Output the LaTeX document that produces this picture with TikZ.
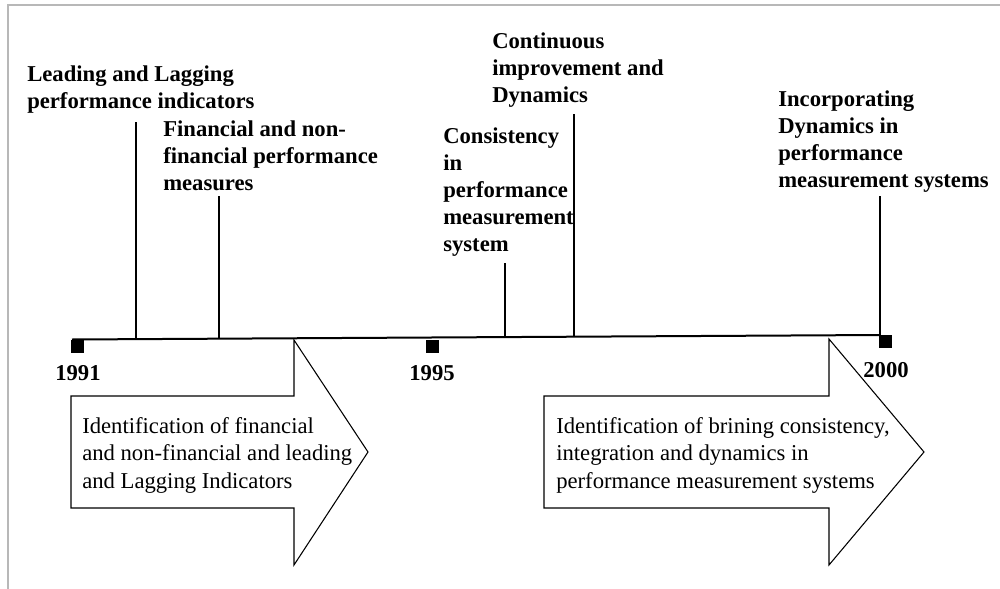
\documentclass[tikz,border=0pt]{standalone}
\usepackage{fontspec}
\setmainfont{Liberation Serif}
\begin{document}
\begin{tikzpicture}[x=0.75pt,y=-0.75pt,
  frameline/.style={draw=black!28,line width=1.5pt},
  axis/.style={line width=1.5pt},
  tick/.style={line width=1.5pt},
  yearmark/.style={fill=black,draw=none,minimum size=9.75pt,inner sep=0pt,anchor=north west},
  yearlabel/.style={font=\bfseries\fontsize{17}{20.25}\selectfont,anchor=base,inner sep=0pt},
  milestone/.style={font=\bfseries\fontsize{17}{20.25}\selectfont,align=left,anchor=base west,inner sep=0pt},
  phase/.style={draw=black,line width=0.8pt,fill=white},
  phasetext/.style={font=\fontsize{17}{20.6}\selectfont,align=left,anchor=base west,inner sep=0pt}]
\useasboundingbox (0,0) rectangle (1000,589);

% partial frame
\draw[frameline] (8,589) -- (8,5) -- (1000,5);

% time axis
\coordinate (axL) at (72,339.5);
\coordinate (axR) at (880,335);
\draw[axis] (axL) -- (axR);

% year markers and labels (multi-line nodes are placed by their last baseline)
\node[yearmark] (m1991) at (71,339.5) {};
\node[yearmark] (m1995) at (426,340) {};
\node[yearmark] (m2000) at (879,335) {};
\node[yearlabel] (y1991) at (78,380) {1991};
\node[yearlabel] (y1995) at (432,380) {1995};

% milestones
\node[milestone] (lead) at (27,108) {Leading and Lagging\\performance indicators};
\node[milestone] (fin) at (163,190) {Financial and non-\\financial performance\\measures};
\node[milestone] (cons) at (443,251) {Consistency\\in\\performance\\measurement\\system};
\node[milestone] (cont) at (492,102) {Continuous\\improvement and\\Dynamics};
\node[milestone] (inc) at (778,187) {Incorporating\\Dynamics in\\performance\\measurement systems};

% milestone ticks down to the axis
\coordinate (leadT) at (136,122);   \coordinate (leadB) at (136,339.1);
\coordinate (finT)  at (219,196);   \coordinate (finB)  at (219,338.7);
\coordinate (consT) at (505,263);   \coordinate (consB) at (505,337.1);
\coordinate (contT) at (574,114);   \coordinate (contB) at (574,336.7);
\coordinate (incT)  at (880,196);   \coordinate (incB)  at (880,335);
\draw[tick] (leadT) -- (leadB);
\draw[tick] (finT) -- (finB);
\draw[tick] (consT) -- (consB);
\draw[tick] (contT) -- (contB);
\draw[tick] (incT) -- (incB);

% phase arrows
\draw[phase] (71,396) -- (294,396) -- (294,340) -- (368,452) -- (294,565)
  -- (294,508) -- (71,508) -- cycle;
\node[phasetext] (ph1) at (82,488) {Identification of financial\\and non-financial and leading\\and Lagging Indicators};

\draw[phase] (544,396) -- (829,396) -- (829,339) -- (924,452) -- (829,565)
  -- (829,508) -- (544,508) -- cycle;
\node[phasetext] (ph2) at (556,488) {Identification of brining consistency,\\integration and dynamics in\\performance measurement systems};

% 2000 label sits over the arrow outline
\node[yearlabel] (y2000) at (886,377) {2000};
\end{tikzpicture}
\end{document}
